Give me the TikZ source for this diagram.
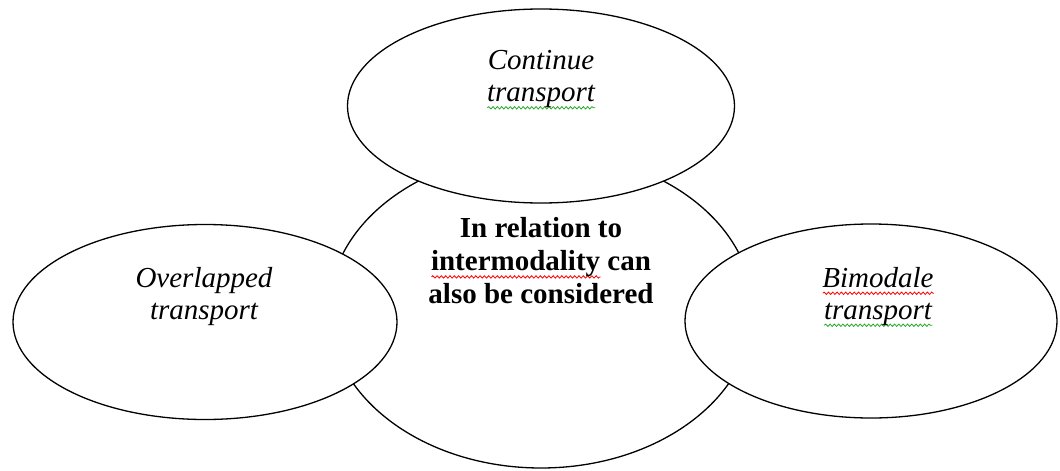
\documentclass[tikz,border=0pt]{standalone}
\usepackage{fontspec}
\setmainfont{Liberation Serif}
\usetikzlibrary{shapes.geometric,decorations.pathmorphing}

\definecolor{spellgreen}{RGB}{40,170,40}
\newlength\wavelen
% word with a spell-check squiggle under it
\newcommand{\spellwave}[2]{\settowidth{\wavelen}{#2}\rlap{\tikz[baseline=0pt]\draw[#1,line width=0.8pt,decorate,decoration={snake,amplitude=1.2pt,segment length=4.3pt}] (0pt,-6pt) -- (\wavelen,-6pt);}#2}

\tikzset{
  bubble/.style={ellipse,draw,line width=1.3pt,fill=white,inner sep=0pt},
  bubbletext/.style={align=center,inner sep=0pt,font=\fontsize{29}{32}\selectfont\itshape},
  hubtext/.style={align=center,inner sep=0pt,font=\fontsize{29}{33}\selectfont\bfseries},
}

\begin{document}
\begin{tikzpicture}[x=1pt,y=-1pt]
\useasboundingbox (0,0) rectangle (1060,471);

% big one behind
\node[bubble,minimum width=424pt,minimum height=316pt] (hub) at (541,310) {};

\node[bubble,minimum width=387pt,minimum height=194pt] (cont) at (541,106) {};
\node[bubble,minimum width=384pt,minimum height=195pt] (over) at (205,322) {};
\node[bubble,minimum width=372pt,minimum height=194pt] (bimo) at (871,321) {};

\node[hubtext] (hublabel) at (541,261) {In relation to\\\spellwave{red}{intermodality} can\\also be considered};
\node[bubbletext] (contlabel) at (541,80) {Continue\\\spellwave{spellgreen}{transport}};
\node[bubbletext] (overlabel) at (204,297) {Overlapped\\transport};
\node[bubbletext] (bimolabel) at (878,297) {\spellwave{red}{Bimodale}\\\spellwave{spellgreen}{transport}};
\end{tikzpicture}
\end{document}
